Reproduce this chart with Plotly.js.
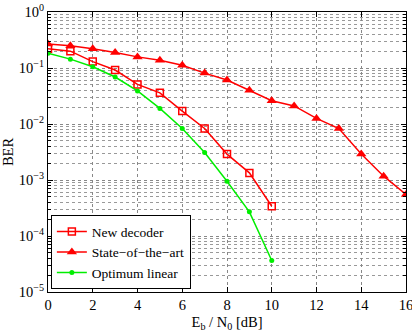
<!DOCTYPE html>
<html>
<head>
<meta charset="utf-8">
<script src="https://cdn.plot.ly/plotly-3.0.1.min.js"></script>
<style>html,body{margin:0;padding:0;background:#fff;}#plot{width:412px;height:336px;}</style>
</head>
<body>
<div id="plot"></div>
<script>
var ebn0New = [0,1,2,3,4,5,6,7,8,9,10];
var berNew = [0.22,0.20,0.13,0.092,0.051,0.036,0.017,0.0083,0.0029,0.00134,0.00034];
var ebn0Sota = [0,1,2,3,4,5,6,7,8,9,10,11,12,13,14,15,16];
var berSota = [0.267,0.25,0.22,0.19,0.158,0.138,0.112,0.081,0.061,0.040,0.026,0.021,0.0126,0.0083,0.0029,0.00117,0.00055];
var ebn0Opt = [0,1,2,3,4,5,6,7,8,9,10];
var berOpt = [0.184,0.144,0.105,0.069,0.039,0.019,0.0083,0.0031,0.00095,0.00027,0.0000365];
var xTicks = [0,2,4,6,8,10,12,14,16];
var yTickVals = [1e-5,1e-4,1e-3,1e-2,1e-1,1];
var yTickText = ['10<sup>\u22125</sup>','10<sup>\u22124</sup>','10<sup>\u22123</sup>','10<sup>\u22122</sup>','10<sup>\u22121</sup>','10<sup>0</sup>'];
var names = ['New decoder','State\u2212of\u2212the\u2212art','Optimum linear'];

var font = {family:'"Liberation Serif", "Times New Roman", serif', size:14.5, color:'#000'};
var legFont = {family:'"Liberation Serif", "Times New Roman", serif', size:13.5, color:'#000'};
var traces = [
  {x:ebn0New, y:berNew, name:names[0], type:'scatter', mode:'lines+markers',
   line:{color:'#ff0000', width:1.5}, marker:{symbol:'square-open', size:7, color:'#ff0000', line:{width:1.5, color:'#ff0000'}}},
  {x:ebn0Sota, y:berSota, name:names[1], type:'scatter', mode:'lines+markers',
   line:{color:'#ff0000', width:1.5}, marker:{symbol:'triangle-up', size:9, color:'#ff0000'}},
  {x:ebn0Opt, y:berOpt, name:names[2], type:'scatter', mode:'lines+markers',
   line:{color:'#00ee00', width:1.5}, marker:{symbol:'circle', size:5, color:'#00ee00'}}
];
var layout = {
  width:412, height:336,
  margin:{l:48, r:6, t:12, b:44},
  paper_bgcolor:'#fff', plot_bgcolor:'#fff',
  font:font,
  showlegend:true,
  legend:{x:0.008, y:0.01, xanchor:'left', yanchor:'bottom', bordercolor:'#000', borderwidth:1,
          bgcolor:'#fff', font:legFont, tracegroupgap:0, itemwidth:30},
  xaxis:{range:[0,16], tickmode:'array', tickvals:xTicks, ticks:'inside', ticklen:5, tickcolor:'#000',
         ticklabeloverflow:'allow',
         showline:true, linecolor:'#000', linewidth:1, mirror:'ticks', zeroline:false,
         showgrid:true, gridcolor:'#888', griddash:'dot', gridwidth:1,
         title:{text:'E<sub>b</sub> / N<sub>0</sub> [dB]', font:font, standoff:4}},
  yaxis:{type:'log', range:[-5,0], tickmode:'array', tickvals:yTickVals, ticktext:yTickText,
         ticks:'inside', ticklen:5, tickcolor:'#000',
         showline:true, linecolor:'#000', linewidth:1, mirror:'ticks', zeroline:false,
         showgrid:true, gridcolor:'#888', griddash:'dot', gridwidth:1,
         minor:{dtick:'D1', ticks:'inside', ticklen:3, tickcolor:'#000', showgrid:true, gridcolor:'#999', griddash:'dot', gridwidth:1},
         title:{text:'BER', font:font, standoff:2}}
};
Plotly.newPlot('plot', traces, layout, {staticPlot:true, displayModeBar:false});
</script>
</body>
</html>
